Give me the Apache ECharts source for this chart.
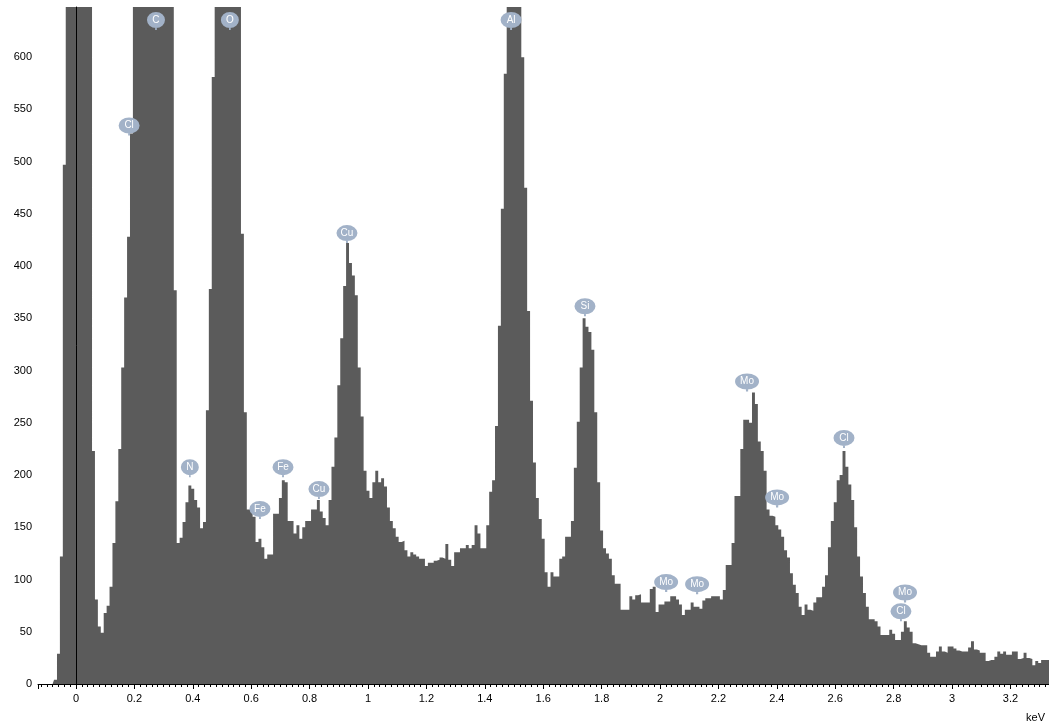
<!DOCTYPE html>
<html>
<head>
<meta charset="utf-8">
<script src="https://cdn.jsdelivr.net/npm/echarts@6/dist/echarts.min.js"></script>
<style>
html,body{margin:0;padding:0;background:#ffffff;}
#chart{width:1049px;height:727px;}
</style>
</head>
<body>
<div id="chart"></div>
<script>
// ---- spectrum data: counts per 0.01 keV channel, first channel centred at -0.12 keV ----
const binStart = -0.12;
const binWidth = 0.01;
const counts = [
  0, 0, 0, 0, 0, 4, 29, 122, 497, 900,
  1500, 2200, 2600, 2400, 1800, 1300, 1000, 800, 223, 81,
  55, 49, 68, 75, 93, 135, 175, 225, 303, 370,
  428, 527, 700, 900, 1100, 1300, 1450, 1550, 1600, 1550,
  1400, 1200, 1000, 850, 720, 680, 377, 135, 140, 155,
  174, 190, 187, 176, 169, 149, 155, 262, 378, 581,
  800, 1000, 1200, 1350, 1400, 1350, 1150, 950, 720, 431,
  260, 167, 167, 160, 136, 139, 131, 120, 124, 124,
  163, 163, 178, 195, 193, 156, 156, 144, 152, 139,
  150, 156, 156, 167, 167, 176, 165, 159, 152, 176,
  208, 236, 286, 331, 381, 422, 403, 391, 372, 303,
  256, 204, 185, 178, 193, 204, 193, 197, 189, 169,
  156, 149, 141, 136, 137, 128, 122, 126, 124, 122,
  120, 120, 113, 116, 116, 118, 119, 121, 120, 134,
  119, 113, 126, 126, 130, 130, 133, 130, 133, 152,
  144, 130, 130, 152, 184, 195, 247, 343, 455, 584,
  800, 1000, 1100, 950, 700, 600, 475, 357, 271, 212,
  178, 158, 139, 107, 93, 107, 103, 103, 120, 122,
  141, 141, 156, 207, 251, 303, 350, 342, 337, 320,
  260, 193, 147, 130, 125, 120, 104, 96, 96, 71,
  71, 71, 84, 81, 85, 86, 78, 78, 78, 91,
  93, 69, 76, 76, 79, 79, 84, 84, 81, 76,
  66, 71, 71, 78, 74, 74, 72, 80, 82, 82,
  84, 84, 84, 81, 90, 114, 114, 135, 180, 180,
  225, 253, 253, 250, 279, 268, 232, 223, 204, 167,
  161, 160, 152, 148, 141, 128, 121, 106, 95, 87,
  74, 66, 76, 71, 70, 78, 83, 83, 93, 104,
  131, 156, 174, 195, 200, 223, 208, 191, 176, 150,
  122, 103, 87, 74, 62, 62, 60, 55, 47, 47,
  47, 52, 48, 42, 42, 50, 60, 54, 50, 39,
  38, 37, 37, 37, 30, 26, 26, 31, 36, 31,
  30, 36, 36, 34, 32, 31, 31, 31, 35, 41,
  33, 32, 30, 30, 22, 23, 23, 26, 31, 29,
  31, 28, 28, 31, 31, 24, 25, 30, 25, 24,
  18, 22, 20, 23, 23, 23, 22
];

// ---- peak identification markers ----
const peakNames    = ['Cl', 'C', 'N', 'O', 'Fe', 'Fe', 'Cu', 'Cu', 'Al', 'Si', 'Mo', 'Mo', 'Mo', 'Mo', 'Cl', 'Cl', 'Mo'];
const peakEnergies = [0.182, 0.274, 0.390, 0.527, 0.630, 0.709, 0.832, 0.928, 1.490, 1.743, 2.021, 2.127, 2.298, 2.401, 2.630, 2.825, 2.839];
const peakHeights  = [525, 626, 198, 626, 158, 198, 177, 422, 626, 352, 88, 86, 280, 169, 226, 60, 78];

// ---- axes ----
const xMin = -0.13, xMax = 3.332;
const yMin = 0, yMax = 648, yStep = 50;
const xUnit = 'keV';

const barColor = '#5b5b5b';
const pinColor = '#a2b2c8';
const font = 'Liberation Sans';

const spectrum = counts.map((v, i) => [+(binStart + i * binWidth).toFixed(2), v]);
const pins = peakNames.map((n, i) => ({
  name: n,
  value: [peakEnergies[i], peakHeights[i]],
  symbolSize: [n.length > 1 ? (n === 'Mo' ? 24 : 21) : 18, 18]
}));

// ellipse (0..16 high) with a short stem down to 18
const pinPath = 'path://M0,8 A11,8 0 1,1 22,8 A11,8 0 1,1 0,8 Z M10,14 L12,14 L12,18 L10,18 Z';

const chart = echarts.init(document.getElementById('chart'), null, {renderer: 'canvas'});
chart.setOption({
  animation: false,
  backgroundColor: '#ffffff',
  grid: {left: 38, right: 0, top: 7, bottom: 43, containLabel: false},
  xAxis: {
    type: 'value', min: xMin, max: xMax, splitNumber: 17,
    axisLine: {show: true, onZero: false, lineStyle: {color: '#000', width: 1}},
    axisTick: {show: true, length: 5, lineStyle: {color: '#000'}},
    minorTick: {show: true, splitNumber: 10, length: 3, lineStyle: {color: '#000'}},
    splitLine: {show: false},
    axisLabel: {showMinLabel: false, showMaxLabel: false, color: '#000', fontFamily: font, fontSize: 11, margin: 9}
  },
  yAxis: {
    type: 'value', min: yMin, max: yMax, interval: yStep,
    axisLine: {show: true, lineStyle: {color: '#000', width: 1}},
    axisTick: {show: true, length: 5, lineStyle: {color: '#000'}},
    minorTick: {show: true, splitNumber: 5, length: 3, lineStyle: {color: '#000'}},
    splitLine: {show: false},
    axisLabel: {showMaxLabel: false, color: '#000', fontFamily: font, fontSize: 11, margin: 6}
  },
  graphic: [{
    type: 'text', right: 4, top: 712,
    style: {text: xUnit, fill: '#000', font: '11px "Liberation Sans"'}
  }],
  series: [
    {
      type: 'line', data: spectrum, step: 'middle', symbol: 'none', clip: true,
      lineStyle: {width: 0, color: barColor},
      itemStyle: {color: barColor},
      areaStyle: {color: barColor, opacity: 1},
      z: 2,
      markLine: {
        silent: true, symbol: ['none', 'none'],
        lineStyle: {color: '#000', width: 1, type: 'solid'},
        label: {show: false},
        data: [{xAxis: 0}]
      }
    },
    {
      type: 'scatter', data: pins, symbol: pinPath, symbolOffset: [0, '-50%'],
      itemStyle: {color: pinColor, opacity: 1},
      label: {show: true, position: 'inside', offset: [0, -1], formatter: '{b}', color: '#fff', fontFamily: font, fontSize: 10},
      z: 5, silent: true
    }
  ]
});
</script>
</body>
</html>
